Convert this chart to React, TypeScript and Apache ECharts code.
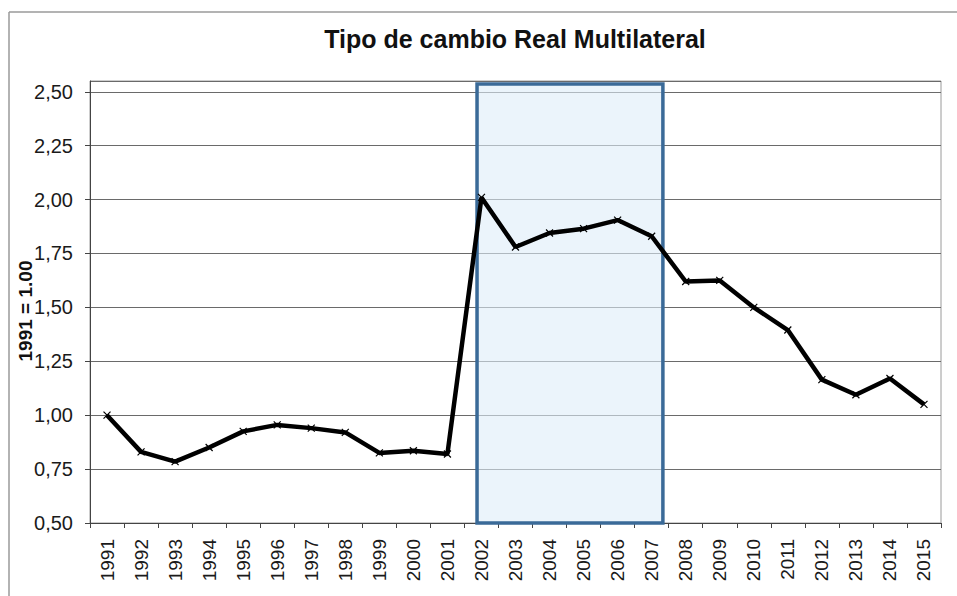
import React, { useEffect, useRef } from "react";
import * as echarts from "echarts";

// Years on the category axis
const years: string[] = [
  "1991", "1992", "1993", "1994", "1995", "1996", "1997", "1998", "1999", "2000",
  "2001", "2002", "2003", "2004", "2005", "2006", "2007", "2008", "2009", "2010",
  "2011", "2012", "2013", "2014", "2015",
];

// Multilateral real exchange rate index (1991 = 1.00)
const tcrm: number[] = [
  1.0, 0.83, 0.785, 0.85, 0.925, 0.955, 0.94, 0.92, 0.825, 0.835,
  0.82, 2.01, 1.78, 1.845, 1.865, 1.905, 1.83, 1.62, 1.625, 1.5,
  1.395, 1.165, 1.095, 1.17, 1.05,
];

// Highlighted period: from just left of 2002 to just right of 2007 (category units)
const highlightX: [number, number] = [11.37, 16.83];
const highlightY: [number, number] = [0.5, 2.536];

const yMin = 0.5;
const yMax = 2.55;
const yStep = 0.25;

const App: React.FC = () => {
  const ref = useRef<HTMLDivElement>(null);

  useEffect(() => {
    if (!ref.current) return;
    const chart = echarts.init(ref.current, undefined, { renderer: "svg" });
    const font = "'Liberation Sans', Arial, sans-serif";

    chart.setOption({
      animation: false,
      backgroundColor: "#ffffff",
      title: {
        text: "Tipo de cambio Real Multilateral",
        left: 510,
        textAlign: "center",
        top: 21,
        textStyle: { fontFamily: font, fontSize: 25, fontWeight: "bold", color: "#111" },
      },
      grid: {
        left: 90,
        right: 16,
        top: 81,
        bottom: 73,
        show: true,
        borderColor: "#9a9a9a",
        borderWidth: 1,
        backgroundColor: "transparent",
      },
      xAxis: [
        {
          type: "category",
          data: years,
          boundaryGap: true,
          axisLine: { lineStyle: { color: "#444", width: 1 } },
          axisTick: { show: true, length: 5, interval: 0, lineStyle: { color: "#444" } },
          axisLabel: {
            interval: 0,
            rotate: 90,
            margin: 16,
            fontFamily: font,
            fontSize: 19,
            color: "#1a1a1a",
          },
          splitLine: { show: false },
        },
        {
          type: "value",
          min: 0,
          max: years.length,
          show: false,
        },
      ],
      yAxis: {
        type: "value",
        min: yMin,
        max: yMax,
        interval: yStep,
        axisLine: { show: true, lineStyle: { color: "#444", width: 1 } },
        axisTick: { show: true, length: 5, lineStyle: { color: "#444" } },
        axisLabel: {
          showMaxLabel: false,
          margin: 17,
          fontFamily: font,
          fontSize: 20,
          color: "#1a1a1a",
          formatter: (v: number) => v.toFixed(2).replace(".", ","),
        },
        splitLine: { show: true, lineStyle: { color: "#6a6a6a", width: 1 } },
      },
      series: [
        {
          name: "periodo",
          type: "line",
          xAxisIndex: 1,
          data: [],
          z: 1,
          silent: true,
          markArea: {
            silent: true,
            itemStyle: {
              color: "rgba(221, 236, 248, 0.6)",
              borderColor: "#3a6a98",
              borderWidth: 3.5,
            },
            data: [
              [
                { coord: [highlightX[0], highlightY[0]] },
                { coord: [highlightX[1], highlightY[1]] },
              ],
            ],
          },
        },
        {
          name: "TCRM",
          type: "line",
          data: tcrm,
          z: 5,
          symbol: "path://M0 0L10 10M10 0L0 10",
          symbolSize: 7,
          itemStyle: { color: "#000", borderColor: "#000", borderWidth: 1.2 },
          lineStyle: { color: "#000", width: 4.5 },
        },
      ],
      graphic: [
        {
          type: "line",
          shape: { x1: 9, y1: 12, x2: 957, y2: 12 },
          style: { stroke: "#9a9a9a", lineWidth: 1.5 },
          silent: true,
        },
        {
          type: "line",
          shape: { x1: 9, y1: 12, x2: 9, y2: 596 },
          style: { stroke: "#9a9a9a", lineWidth: 1.5 },
          silent: true,
        },
        {
          type: "text",
          x: 25,
          y: 311,
          rotation: Math.PI / 2,
          style: {
            text: "1991 = 1.00",
            fontFamily: font,
            fontSize: 19,
            fontWeight: "bold",
            fill: "#111",
            align: "center",
            verticalAlign: "middle",
          },
          z: 10,
        },
      ],
    });

    return () => chart.dispose();
  }, []);

  return <div ref={ref} style={{ width: 957, height: 596, position: "absolute", left: 0, top: 0 }} />;
};

export default App;
